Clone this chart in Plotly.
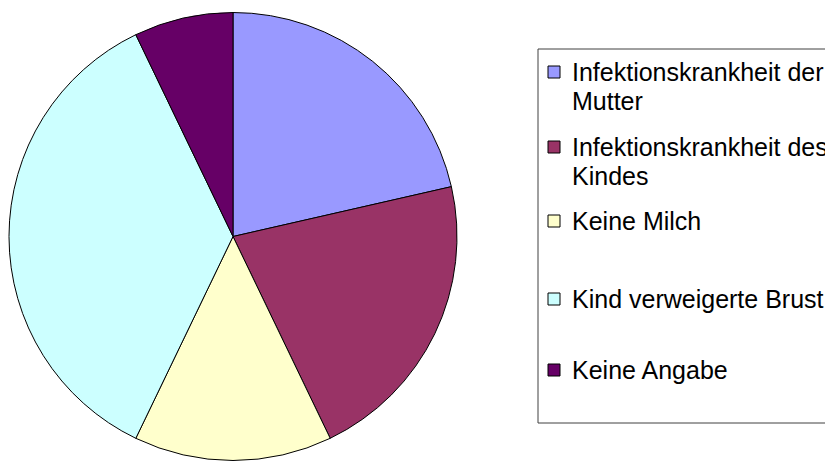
import plotly.graph_objects as go

# Gruende fuers Abstillen (Anzahl)
labels = ["Infektionskrankheit der<br>Mutter", "Infektionskrankheit des<br>Kindes",
          "Keine Milch", "Kind verweigerte Brust", "Keine Angabe"]
values = [6, 6, 4, 10, 2]
colors = ["#9999FF", "#993366", "#FFFFCC", "#CCFFFF", "#660066"]

W, H = 833, 461
OFF = 8  # page body margin shifts the figure by 8px

def px(x):
    return (x - OFF) / W

def py(y):
    return 1 - (y - OFF) / H

fig = go.Figure()
fig.add_trace(go.Pie(
    labels=labels,
    values=values,
    sort=False,
    direction="clockwise",
    rotation=0,
    textinfo="none",
    hoverinfo="label+value+percent",
    marker=dict(colors=colors, line=dict(color="black", width=1)),
    domain=dict(x=[px(9), px(457)], y=[py(461), py(12)]),
    showlegend=False,
))

# legend box, drawn by hand so it looks like the Excel one
shapes = [dict(type="rect", xref="paper", yref="paper",
               x0=px(538), x1=px(845), y0=py(423), y1=py(49),
               line=dict(color="#404040", width=1), fillcolor="white", layer="below")]
annotations = []
item_y = [72, 147, 221, 299, 370]
line_gap = 29
for i, lab in enumerate(labels):
    yc = item_y[i]
    shapes.append(dict(type="rect", xref="paper", yref="paper",
                       x0=px(548), x1=px(560), y0=py(yc + 6), y1=py(yc - 6),
                       line=dict(color="black", width=1), fillcolor=colors[i]))
    for j, part in enumerate(lab.split("<br>")):
        annotations.append(dict(xref="paper", yref="paper", x=px(570), y=py(yc + j * line_gap),
                                text=part, showarrow=False, xanchor="left", yanchor="middle",
                                font=dict(family="Liberation Sans, Arial", size=25, color="black")))

fig.update_layout(
    width=W, height=H,
    margin=dict(l=0, r=0, t=0, b=0),
    paper_bgcolor="white",
    plot_bgcolor="white",
    shapes=shapes,
    annotations=annotations,
)
fig.write_html("out.html")
